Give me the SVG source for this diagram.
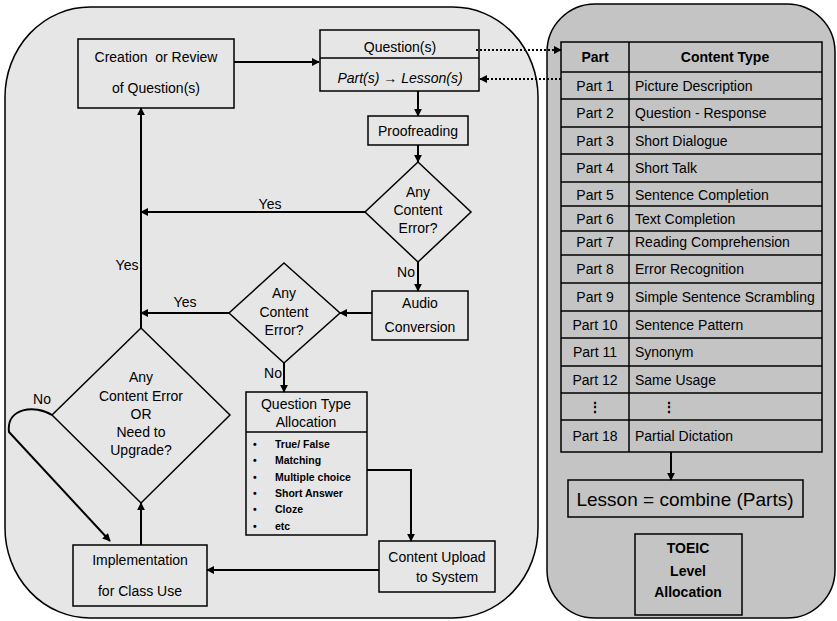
<svg xmlns="http://www.w3.org/2000/svg" width="837" height="621" viewBox="0 0 837 621">
<style>
text{font-family:"Liberation Sans",Arial,sans-serif;fill:#000}
.t{font-size:14px;text-anchor:middle}
.s{font-size:13px}
.b{font-weight:bold}
.box{fill:none;stroke:#000;stroke-width:1.5}
.ln{fill:none;stroke:#000;stroke-width:2}
.dot{fill:none;stroke:#000;stroke-width:2;stroke-dasharray:2,2}
.li{font-size:10.5px;font-weight:bold}
</style>
<defs>
<marker id="ah" viewBox="0 0 10 10" refX="9" refY="5" markerWidth="8" markerHeight="8" markerUnits="userSpaceOnUse" orient="auto"><path d="M0,0 L10,5 L0,10 z" fill="#000"/></marker>
</defs>
<rect id="leftPanel" x="5" y="7" width="533" height="611" rx="85" ry="90" fill="#e6e6e6" stroke="#000" stroke-width="1.5"/>
<rect id="rightPanel" x="547" y="4" width="288" height="614" rx="48" ry="48" fill="#c4c4c4" stroke="#000" stroke-width="1.5"/>

<g id="connectors">
<line class="ln" x1="234" y1="62" x2="319" y2="62" marker-end="url(#ah)"/>
<line class="dot" x1="476" y1="50" x2="561" y2="50" marker-end="url(#ah)"/>
<line class="dot" x1="561" y1="79" x2="480" y2="79" marker-end="url(#ah)"/>
<line class="ln" x1="418" y1="91" x2="418" y2="116" stroke-width="1.5" marker-end="url(#ah)"/>
<line class="ln" x1="418" y1="145" x2="418" y2="162" stroke-width="1.5" marker-end="url(#ah)"/>
<line class="ln" x1="365" y1="212" x2="141" y2="212" stroke-width="2.5" marker-end="url(#ah)"/>
<line class="ln" x1="418" y1="262" x2="418" y2="291" stroke-width="1.5" marker-end="url(#ah)"/>
<line class="ln" x1="372" y1="313" x2="340" y2="313" stroke-width="2" marker-end="url(#ah)"/>
<line class="ln" x1="229" y1="313" x2="141" y2="313" stroke-width="2.5" marker-end="url(#ah)"/>
<line class="ln" x1="141" y1="328" x2="141" y2="108" stroke-width="1.5" marker-end="url(#ah)"/>
<line class="ln" x1="284" y1="363" x2="284" y2="392" stroke-width="1.5" marker-end="url(#ah)"/>
<polyline class="ln" points="367,470 411,470 411,541" stroke-width="2" marker-end="url(#ah)"/>
<line class="ln" x1="379" y1="570" x2="207" y2="570" stroke-width="2" marker-end="url(#ah)"/>
<line class="ln" x1="141" y1="545" x2="141" y2="503" stroke-width="1.5" marker-end="url(#ah)"/>
<path class="ln" d="M52,415 C35,404 6,408 9,432 L110,541" stroke-width="2.5" marker-end="url(#ah)"/>
<line class="ln" x1="671" y1="452" x2="671" y2="480" stroke-width="1.5" marker-end="url(#ah)"/>
<text class="t" x="270" y="209">Yes</text>
<text class="t" x="185" y="307">Yes</text>
<text class="t" x="127" y="270">Yes</text>
<text class="t" x="406" y="277">No</text>
<text class="t" x="273" y="378">No</text>
<text class="t" x="42" y="404">No</text>
</g>

<g id="creation">
<rect class="box" x="78" y="39" width="156" height="69"/>
<text class="t" x="156" y="62">Creation&#160; or Review</text>
<text class="t" x="156" y="93">of Question(s)</text>
</g>
<g id="questions">
<rect class="box" x="320" y="30" width="159" height="61"/>
<line class="box" x1="320" y1="58" x2="479" y2="58"/>
<text class="t" x="400" y="52">Question(s)</text>
<text class="t" x="400" y="83" font-style="italic">Part(s) → Lesson(s)</text>
</g>
<g id="proofreading">
<rect class="box" x="368" y="116" width="100" height="29"/>
<text class="t" x="418" y="136">Proofreading</text>
</g>
<g id="diamond1">
<polygon class="box" points="418,162 471,212 418,262 365,212"/>
<text class="t" x="418" y="197">Any</text>
<text class="t" x="418" y="215">Content</text>
<text class="t" x="418" y="233">Error?</text>
</g>
<g id="audio">
<rect class="box" x="372" y="291" width="96" height="49"/>
<text class="t" x="420" y="308">Audio</text>
<text class="t" x="420" y="332">Conversion</text>
</g>
<g id="diamond2">
<polygon class="box" points="284,263 340,313 284,363 229,313"/>
<text class="t" x="284" y="298">Any</text>
<text class="t" x="284" y="317">Content</text>
<text class="t" x="284" y="335">Error?</text>
</g>
<g id="diamond3">
<polygon class="box" points="141,328 230,415 141,503 52,415"/>
<text class="t" x="141" y="382">Any</text>
<text class="t" x="141" y="401">Content Error</text>
<text class="t" x="141" y="419">OR</text>
<text class="t" x="141" y="437">Need to</text>
<text class="t" x="141" y="455">Upgrade?</text>
</g>
<g id="qtype">
<rect class="box" x="246" y="392" width="121" height="143"/>
<line class="box" x1="246" y1="432" x2="367" y2="432"/>
<text class="t" x="306" y="409">Question Type</text>
<text class="t" x="306" y="427">Allocation</text>
<g class="li">
<text x="253" y="448">•</text><text x="275" y="448">True/ False</text>
<text x="253" y="464">•</text><text x="275" y="464">Matching</text>
<text x="253" y="481">•</text><text x="275" y="481">Multiple choice</text>
<text x="253" y="497">•</text><text x="275" y="497">Short Answer</text>
<text x="253" y="513">•</text><text x="275" y="513">Cloze</text>
<text x="253" y="530">•</text><text x="275" y="530">etc</text>
</g>
</g>
<g id="upload">
<rect class="box" x="379" y="541" width="116" height="51"/>
<text class="t" x="437" y="562">Content Upload</text>
<text class="t" x="447" y="582">to System</text>
</g>
<g id="implementation">
<rect class="box" x="73" y="545" width="134" height="61"/>
<text class="t" x="140" y="565">Implementation</text>
<text class="t" x="140" y="596">for Class Use</text>
</g>

<g id="table">
<rect class="box" x="561" y="42" width="261" height="410"/>
<line class="box" x1="629" y1="42" x2="629" y2="452"/>
<g class="box">
<line x1="561" y1="72" x2="822" y2="72"/>
<line x1="561" y1="99" x2="822" y2="99"/>
<line x1="561" y1="127" x2="822" y2="127"/>
<line x1="561" y1="154" x2="822" y2="154"/>
<line x1="561" y1="182" x2="822" y2="182"/>
<line x1="561" y1="206" x2="822" y2="206"/>
<line x1="561" y1="231" x2="822" y2="231"/>
<line x1="561" y1="255" x2="822" y2="255"/>
<line x1="561" y1="283" x2="822" y2="283"/>
<line x1="561" y1="311" x2="822" y2="311"/>
<line x1="561" y1="338" x2="822" y2="338"/>
<line x1="561" y1="366" x2="822" y2="366"/>
<line x1="561" y1="393" x2="822" y2="393"/>
<line x1="561" y1="420" x2="822" y2="420"/>
</g>
<text class="t b" x="595" y="62">Part</text>
<text class="t b" x="725" y="62">Content Type</text>
<g class="t">
<text x="595" y="91">Part 1</text><text x="635" y="91" text-anchor="start">Picture Description</text>
<text x="595" y="118">Part 2</text><text x="635" y="118" text-anchor="start">Question - Response</text>
<text x="595" y="146">Part 3</text><text x="635" y="146" text-anchor="start">Short Dialogue</text>
<text x="595" y="173">Part 4</text><text x="635" y="173" text-anchor="start">Short Talk</text>
<text x="595" y="200">Part 5</text><text x="635" y="200" text-anchor="start">Sentence Completion</text>
<text x="595" y="224">Part 6</text><text x="635" y="224" text-anchor="start">Text Completion</text>
<text x="595" y="247">Part 7</text><text x="635" y="247" text-anchor="start">Reading Comprehension</text>
<text x="595" y="274">Part 8</text><text x="635" y="274" text-anchor="start">Error Recognition</text>
<text x="595" y="302">Part 9</text><text x="635" y="302" text-anchor="start">Simple Sentence Scrambling</text>
<text x="595" y="330">Part 10</text><text x="635" y="330" text-anchor="start">Sentence Pattern</text>
<text x="595" y="357">Part 11</text><text x="635" y="357" text-anchor="start">Synonym</text>
<text x="595" y="385">Part 12</text><text x="635" y="385" text-anchor="start">Same Usage</text>
<text x="595" y="412" font-weight="bold">⋮</text><text x="669" y="412" font-weight="bold">⋮</text>
<text x="595" y="441">Part 18</text><text x="635" y="441" text-anchor="start">Partial Dictation</text>
</g>
</g>
<g id="lesson">
<rect class="box" x="568" y="480" width="235" height="37"/>
<text x="685" y="506" text-anchor="middle" font-size="19">Lesson = combine (Parts)</text>
</g>
<g id="toeic">
<rect class="box" x="635" y="534" width="107" height="81"/>
<text class="t b" x="688" y="553">TOEIC</text>
<text class="t b" x="688" y="576">Level</text>
<text class="t b" x="688" y="597">Allocation</text>
</g>
</svg>
